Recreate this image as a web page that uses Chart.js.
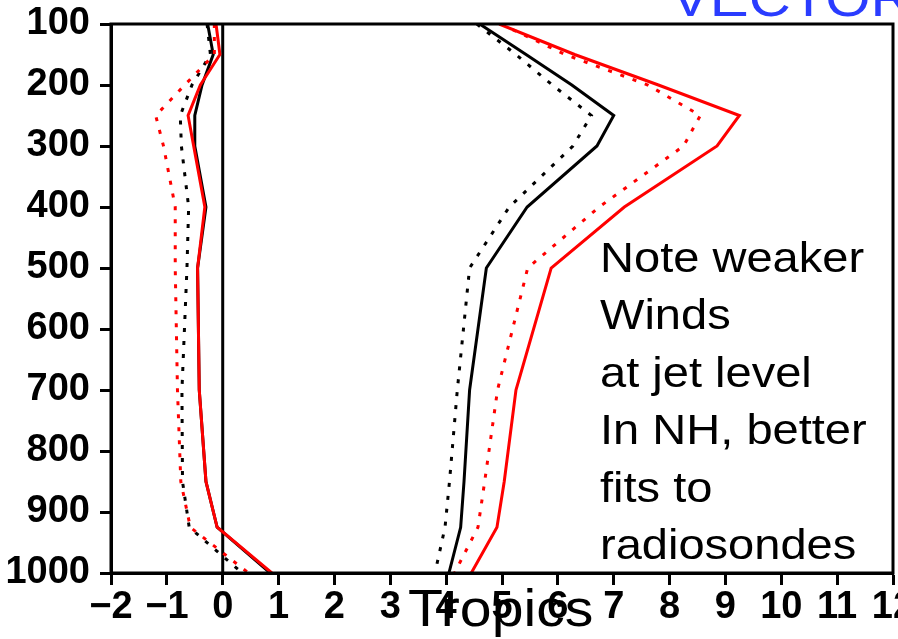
<!DOCTYPE html>
<html>
<head>
<meta charset="utf-8">
<script src="https://cdn.jsdelivr.net/npm/chart.js@4/dist/chart.umd.min.js"></script>
<style>
  html, body { margin: 0; padding: 0; background: #fff; }
  #wrap { width: 898px; height: 639px; }
</style>
</head>
<body>
<div id="wrap"><canvas id="c" width="898" height="639"></canvas></div>
<script>
// Pressure levels (hPa)
const levels = [100, 150, 200, 250, 300, 400, 500, 700, 850, 925, 1000];

// Mean differences (m/s), near zero
const blackSolidBias = [-0.27, -0.17, -0.37, -0.50, -0.50, -0.30, -0.45, -0.42, -0.30, -0.10, 0.85];
const blackDotBias   = [-0.28, -0.22, -0.55, -0.76, -0.74, -0.61, -0.64, -0.73, -0.72, -0.60, 0.35];
const redSolidBias   = [-0.12, -0.05, -0.40, -0.62, -0.52, -0.32, -0.45, -0.42, -0.30, -0.10, 0.88];
const redDotBias     = [-0.15, -0.15, -0.68, -1.20, -1.06, -0.85, -0.85, -0.81, -0.75, -0.58, 0.46];

// RMS differences (m/s)
const blackSolidRms = [4.60, 5.43, 6.25, 7.00, 6.70, 5.45, 4.72, 4.42, 4.32, 4.26, 4.05];
const blackDotRms   = [4.55, 5.25, 5.90, 6.60, 6.27, 5.13, 4.42, 4.20, 4.06, 3.98, 3.80];
const redSolidRms   = [4.95, 6.30, 7.80, 9.25, 8.85, 7.19, 5.88, 5.25, 5.04, 4.91, 4.45];
const redDotRms     = [4.98, 6.13, 7.61, 8.55, 8.25, 6.74, 5.46, 4.92, 4.69, 4.57, 4.15];

// Axis ticks
const xTicks = [-2, -1, 0, 1, 2, 3, 4, 5, 6, 7, 8, 9, 10, 11, 12];
const yTicks = [100, 200, 300, 400, 500, 600, 700, 800, 900, 1000];

// Reference line at zero
const zeroLine = [0, 0];
const zeroLevels = [100, 1000];

const noteLines = ['Note weaker', 'Winds', 'at jet level', 'In NH, better', 'fits to', 'radiosondes'];
const regionLabel = 'Tropics';
const titleText = 'VECTOR';

function profile(values, lv) {
  return values.map((v, i) => ({ x: v, y: lv[i] }));
}

const DOT = [4, 9];
function series(values, color, dotted) {
  return {
    data: profile(values, levels),
    borderColor: color,
    borderWidth: 3,
    borderDash: dotted ? DOT : [],
    borderCapStyle: 'butt',
    pointRadius: 0,
    fill: false,
    tension: 0
  };
}

const frame = {
  id: 'frame',
  afterDatasetsDraw(chart) {
    const a = chart.chartArea, ctx = chart.ctx;
    ctx.save();
    ctx.strokeStyle = '#000';
    ctx.lineWidth = 3;
    ctx.strokeRect(a.left, a.top, a.right - a.left, a.bottom - a.top);
    ctx.restore();
  }
};

const texts = {
  id: 'texts',
  afterDraw(chart) {
    const ctx = chart.ctx;
    function put(str, x, y, size, sx, color) {
      ctx.save();
      ctx.font = size + 'px "Liberation Sans", Arial, sans-serif';
      ctx.fillStyle = color;
      ctx.textBaseline = 'alphabetic';
      ctx.textAlign = 'left';
      ctx.translate(x, y);
      ctx.scale(sx, 1);
      ctx.fillText(str, 0, 0);
      ctx.restore();
    }
    noteLines.forEach((s, i) => put(s, 600, 272 + i * 57.4, 42, 1.12, '#000'));
    put(regionLabel, 408, 626, 52, 1.1, '#000');
    put(titleText, 671, 16, 52, 1.12, '#2a3cff');
  }
};

const tickFont = { family: '"Liberation Sans", Arial, sans-serif', size: 38, weight: 'bold' };

new Chart(document.getElementById('c'), {
  type: 'line',
  data: {
    datasets: [
      series(redSolidBias, '#ff0000', false),
      series(redDotBias, '#ff0000', true),
      series(redSolidRms, '#ff0000', false),
      series(redDotRms, '#ff0000', true),
      series(blackSolidBias, '#000000', false),
      series(blackDotBias, '#000000', true),
      series(blackSolidRms, '#000000', false),
      series(blackDotRms, '#000000', true),
      {
        data: profile(zeroLine, zeroLevels),
        borderColor: '#000', borderWidth: 3, pointRadius: 0, fill: false
      }
    ]
  },
  options: {
    responsive: false,
    devicePixelRatio: 1,
    animation: false,
    layout: { padding: { top: 24, right: 5, left: 0, bottom: 0 } },
    plugins: { legend: { display: false }, tooltip: { enabled: false } },
    scales: {
      x: {
        type: 'linear',
        min: -2, max: 12,
        afterBuildTicks(s) { s.ticks = xTicks.map(v => ({ value: v })); },
        afterFit(s) { s.height = 66; s.paddingLeft = 0; s.paddingRight = 0; },
        border: { display: true, color: '#000', width: 3 },
        grid: { drawOnChartArea: false, drawTicks: true, tickLength: 12, tickWidth: 3, tickColor: '#000', color: '#000' },
        ticks: {
          autoSkip: false, maxRotation: 0, padding: 0, color: '#000', font: tickFont,
          callback: v => (v < 0 ? '\u2212' + Math.abs(v) : String(v))
        }
      },
      y: {
        type: 'linear',
        reverse: true,
        min: 100, max: 1000,
        afterBuildTicks(s) { s.ticks = yTicks.map(v => ({ value: v })); },
        afterFit(s) { s.width = 111; s.paddingTop = 0; s.paddingBottom = 0; },
        border: { display: true, color: '#000', width: 3 },
        grid: { drawOnChartArea: false, drawTicks: true, tickLength: 11, tickWidth: 3, tickColor: '#000', color: '#000' },
        ticks: {
          autoSkip: false, padding: 10, color: '#000', font: tickFont,
          callback: v => String(v)
        }
      }
    }
  },
  plugins: [frame, texts]
});
</script>
</body>
</html>
